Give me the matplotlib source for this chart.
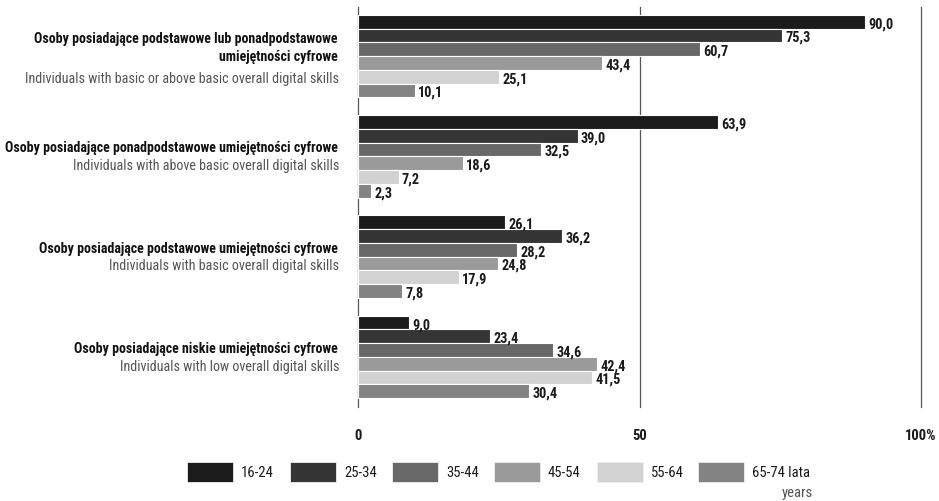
import numpy as np
import matplotlib
matplotlib.use("Agg")
import matplotlib.pyplot as plt
from matplotlib.patches import Rectangle

plt.rcParams['font.family'] = ['Roboto Condensed', 'Liberation Sans', 'DejaVu Sans']

ages = ['16-24', '25-34', '35-44', '45-54', '55-64', '65-74 lata']
colors = ['#1b1b1b', '#353535', '#686868', '#9a9a9a', '#d2d2d2', '#838383']

labels_pl = ['Osoby posiadające podstawowe lub ponadpodstawowe\numiejętności cyfrowe',
             'Osoby posiadające ponadpodstawowe umiejętności cyfrowe',
             'Osoby posiadające podstawowe umiejętności cyfrowe',
             'Osoby posiadające niskie umiejętności cyfrowe']
labels_en = ['Individuals with basic or above basic overall digital skills',
             'Individuals with above basic overall digital skills',
             'Individuals with basic overall digital skills',
             'Individuals with low overall digital skills']

# rows = skill category, columns = age group
values = [
    [90.0, 75.3, 60.7, 43.4, 25.1, 10.1],
    [63.9, 39.0, 32.5, 18.6, 7.2, 2.3],
    [26.1, 36.2, 28.2, 24.8, 17.9, 7.8],
    [9.0, 23.4, 34.6, 42.4, 41.5, 30.4],
]

fig = plt.figure(figsize=(9.39, 5.02), dpi=100)
ax = fig.add_axes([358/939, 1-408/502, 563/939, 400/502])

bh = 0.137
for g in range(len(values)):
    for k in range(len(ages)):
        y = g + (k - 2.5) * bh
        v = values[g][k]
        ax.barh(y, v, height=bh, color=colors[k], edgecolor='white', linewidth=0.8, zorder=3)
        ax.text(v + 0.6, y + 0.015, f'{v:.1f}'.replace('.', ','), va='center', ha='left',
                fontsize=10.3, fontweight='bold', color='#1a1a1a', zorder=4)

ax.set_xlim(0, 100)
ax.set_ylim(3.5, -0.49)
for s in ax.spines.values():
    s.set_visible(False)
for xv in [0, 50, 100]:
    ax.axvline(xv, color='#555555', linewidth=0.9, zorder=1, clip_on=False)
ax.set_yticks([])
ax.set_xticks([0, 50, 100])
ax.set_xticklabels(['0', '50', '100%'], fontsize=10.5, fontweight='bold', color='#1a1a1a')
ax.tick_params(axis='x', length=0, pad=15)

# category labels
pl_y = [48, 148, 249, 349]
en_y = [79, 166, 266, 367]
for g in range(len(values)):
    fig.text(338/939, 1 - pl_y[g]/502, labels_pl[g], ha='right', va='center',
             fontsize=10, fontweight='bold', color='#111111', linespacing=1.45)
    fig.text(339/939, 1 - en_y[g]/502, labels_en[g], ha='right', va='center',
             fontsize=10.2, color='#555555')

# legend
lx = [187, 290, 392, 494, 597, 698]
for k in range(len(ages)):
    fig.patches.append(Rectangle((lx[k]/939, 1-483/502), 46/939, 20/502, transform=fig.transFigure,
                                 facecolor=colors[k], edgecolor='#eeeeee', linewidth=0.6))
    fig.text((lx[k]+54)/939, 1-473/502, ages[k], ha='left', va='center',
             fontsize=10.5, color='#1a1a1a')
fig.text(813/939, 1-493/502, 'years', ha='right', va='center', fontsize=10.5, color='#555555')

fig.savefig('out.png', dpi=100)
